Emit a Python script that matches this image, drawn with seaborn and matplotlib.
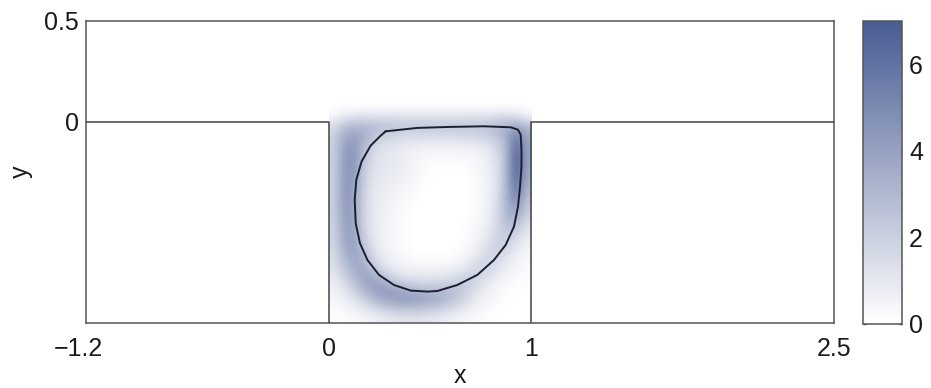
import numpy as np
import pandas as pd
import matplotlib
matplotlib.use("Agg")
import matplotlib.pyplot as plt
import matplotlib.transforms as mtransforms
import seaborn as sns
from matplotlib.colors import LinearSegmentedColormap

sns.set_style("white")
plt.rcParams["font.family"] = ["Liberation Sans", "DejaVu Sans"]

# Axis ticks
x_ticks = [-1.2, 0, 1, 2.5]
x_tick_labels = ["\u22121.2", "0", "1", "2.5"]
y_ticks = [0.5, 0]
y_tick_labels = ["0.5", "0"]
cbar_ticks = [0, 2, 4, 6]

# Cavity walls
left_wall_x = [-1.2, 0, 0]
left_wall_y = [0, 0, -1]
right_wall_x = [1, 1, 2.5]
right_wall_y = [-1, 0, 0]

# Closed level curve inside the cavity
contour_x = [0.282, 0.439, 0.604, 0.769, 0.901, 0.937, 0.950, 0.954, 0.954,
             0.947, 0.937, 0.917, 0.876, 0.818, 0.736, 0.637, 0.538, 0.489,
             0.406, 0.323, 0.249, 0.192, 0.155, 0.134, 0.129, 0.137, 0.163,
             0.208, 0.257, 0.282]
contour_y = [-0.048, -0.031, -0.026, -0.023, -0.028, -0.040, -0.065, -0.139,
             -0.222, -0.322, -0.421, -0.521, -0.612, -0.687, -0.761, -0.811,
             -0.841, -0.844, -0.839, -0.811, -0.761, -0.687, -0.603, -0.504,
             -0.388, -0.289, -0.198, -0.119, -0.070, -0.048]

# Field magnitude on a 0.05 grid: rows from y = 0.075 down to y = -0.975,
# columns from x = 0.025 to x = 0.975
field = np.array([
    [0.0, 0.0, 0.0, 0.0, 0.0, 0.0, 0.0, 0.0, 0.0, 0.0, 0.0, 0.0, 0.0, 0.0, 0.0, 0.0, 0.0, 0.0, 0.0, 0.0],
    [0.3, 0.8, 1.1, 1.2, 1.2, 1.2, 1.2, 1.2, 1.2, 1.2, 1.2, 1.2, 1.2, 1.2, 1.2, 1.3, 1.4, 1.5, 1.3, 0.5],
    [1.5, 2.6, 3.0, 3.0, 2.8, 2.6, 2.5, 2.4, 2.4, 2.4, 2.4, 2.4, 2.4, 2.4, 2.5, 2.6, 2.8, 3.2, 3.8, 2.8],
    [1.8, 3.6, 4.0, 3.4, 2.4, 2.0, 1.8, 1.6, 1.5, 1.5, 1.5, 1.5, 1.5, 1.6, 1.7, 1.9, 2.4, 3.4, 5.6, 3.6],
    [1.9, 4.0, 4.4, 2.8, 1.6, 1.2, 1.0, 0.8, 0.7, 0.6, 0.6, 0.6, 0.6, 0.7, 0.8, 1.0, 1.6, 3.0, 6.6, 3.8],
    [1.9, 4.2, 4.6, 2.4, 1.3, 1.0, 0.9, 0.7, 0.5, 0.3, 0.3, 0.3, 0.3, 0.3, 0.4, 0.7, 1.3, 3.0, 7.0, 3.8],
    [1.9, 4.3, 4.5, 2.1, 1.2, 1.0, 0.9, 0.7, 0.4, 0.2, 0.1, 0.1, 0.1, 0.1, 0.3, 0.6, 1.2, 3.0, 7.0, 3.6],
    [1.9, 4.4, 4.3, 1.9, 1.1, 0.9, 0.8, 0.6, 0.3, 0.1, 0.0, 0.0, 0.0, 0.0, 0.2, 0.5, 1.1, 3.0, 6.8, 3.4],
    [1.9, 4.4, 4.1, 1.8, 1.0, 0.8, 0.6, 0.4, 0.2, 0.0, 0.0, 0.0, 0.0, 0.0, 0.2, 0.5, 1.1, 3.1, 6.2, 3.0],
    [1.9, 4.4, 4.0, 1.7, 0.9, 0.7, 0.5, 0.3, 0.1, 0.0, 0.0, 0.0, 0.0, 0.0, 0.2, 0.5, 1.2, 3.2, 5.4, 2.6],
    [1.9, 4.3, 3.9, 1.6, 0.9, 0.6, 0.4, 0.2, 0.0, 0.0, 0.0, 0.0, 0.0, 0.0, 0.2, 0.5, 1.3, 3.2, 4.4, 2.2],
    [1.9, 4.2, 3.9, 1.6, 0.9, 0.6, 0.3, 0.1, 0.0, 0.0, 0.0, 0.0, 0.0, 0.0, 0.2, 0.6, 1.4, 3.0, 3.4, 1.7],
    [1.8, 4.0, 4.0, 1.7, 0.9, 0.5, 0.3, 0.1, 0.0, 0.0, 0.0, 0.0, 0.0, 0.1, 0.3, 0.7, 1.6, 2.6, 2.4, 1.2],
    [1.7, 3.8, 4.0, 1.9, 1.0, 0.5, 0.3, 0.1, 0.0, 0.0, 0.0, 0.0, 0.0, 0.1, 0.4, 0.9, 1.8, 2.2, 1.6, 0.8],
    [1.6, 3.5, 4.0, 2.3, 1.1, 0.6, 0.3, 0.1, 0.0, 0.0, 0.0, 0.0, 0.1, 0.2, 0.6, 1.3, 2.0, 1.7, 1.0, 0.5],
    [1.4, 3.0, 3.9, 3.0, 1.4, 0.8, 0.5, 0.3, 0.1, 0.1, 0.1, 0.1, 0.2, 0.5, 1.0, 1.8, 1.8, 1.2, 0.6, 0.3],
    [1.2, 2.4, 3.6, 3.6, 2.2, 1.2, 0.8, 0.6, 0.5, 0.5, 0.5, 0.5, 0.6, 1.0, 1.7, 1.9, 1.3, 0.7, 0.4, 0.2],
    [0.9, 1.8, 3.0, 3.9, 3.6, 2.4, 1.6, 1.2, 1.1, 1.1, 1.1, 1.2, 1.5, 2.0, 2.0, 1.3, 0.8, 0.4, 0.2, 0.1],
    [0.6, 1.2, 2.2, 3.3, 4.2, 4.2, 3.6, 3.0, 2.6, 2.4, 2.4, 2.6, 2.6, 2.2, 1.4, 0.8, 0.4, 0.2, 0.1, 0.1],
    [0.4, 0.7, 1.3, 2.2, 3.2, 4.0, 4.3, 4.3, 4.2, 4.0, 3.7, 3.2, 2.5, 1.7, 1.0, 0.5, 0.3, 0.1, 0.0, 0.0],
    [0.2, 0.4, 0.7, 1.1, 1.7, 2.2, 2.6, 2.8, 2.8, 2.6, 2.3, 1.9, 1.4, 0.9, 0.5, 0.3, 0.1, 0.0, 0.0, 0.0],
    [0.1, 0.1, 0.2, 0.4, 0.6, 0.8, 1.0, 1.1, 1.1, 1.0, 0.9, 0.7, 0.5, 0.3, 0.2, 0.1, 0.0, 0.0, 0.0, 0.0],
])

cmap = LinearSegmentedColormap.from_list("whiteblue", ["#ffffff", "#485b93"])

fig = plt.figure(figsize=(9.31, 3.88), dpi=100)
ax = fig.add_axes([0.0924, 0.1675, 0.8034, 0.7784])
cax = fig.add_axes([0.927, 0.165, 0.042, 0.781])

im = ax.imshow(field, extent=[0, 1, -1, 0.1], origin="upper", cmap=cmap,
               vmin=0, vmax=7, interpolation="bicubic", aspect="auto", zorder=1)

wall_color = "#444444"
sns.lineplot(x=left_wall_x, y=left_wall_y, ax=ax, sort=False, estimator=None,
             color=wall_color, linewidth=1.1, zorder=3)
sns.lineplot(x=right_wall_x, y=right_wall_y, ax=ax, sort=False, estimator=None,
             color=wall_color, linewidth=1.1, zorder=3)
curve = pd.DataFrame({"x": contour_x, "y": contour_y})
sns.lineplot(data=curve, x="x", y="y", ax=ax, sort=False, estimator=None,
             color="#1b2030", linewidth=1.4, zorder=4)

ax.set_xlim(-1.2, 2.5)
ax.set_ylim(-1, 0.5)
ax.set_xticks(x_ticks)
ax.set_xticklabels(x_tick_labels)
ax.set_yticks(y_ticks)
ax.set_yticklabels(y_tick_labels)
ax.tick_params(length=0, labelsize=18, colors="#1a1a1a")
ax.tick_params(axis="x", pad=10)
ax.tick_params(axis="y", pad=5)
# the negative label is centred on its digits, so nudge it left by half a minus sign
shift = mtransforms.ScaledTranslation(-0.08, 0, fig.dpi_scale_trans)
first = ax.get_xticklabels()[0]
first.set_transform(first.get_transform() + shift)

ax.set_xlabel("x", fontsize=18, color="#1a1a1a", labelpad=2)
ax.set_ylabel("y", fontsize=18, color="#1a1a1a", labelpad=8)
for sp in ax.spines.values():
    sp.set_color("#555555")
    sp.set_linewidth(1.1)

cb = fig.colorbar(im, cax=cax, ticks=cbar_ticks)
cb.outline.set_edgecolor("#555555")
cb.outline.set_linewidth(1.1)
cax.yaxis.set_ticks_position("both")
cax.tick_params(direction="in", length=2.5, width=1, colors="#333333",
                labelsize=18, labelcolor="#1a1a1a", labelright=True,
                labelleft=False, pad=5)

fig.savefig("out.png", dpi=100)
